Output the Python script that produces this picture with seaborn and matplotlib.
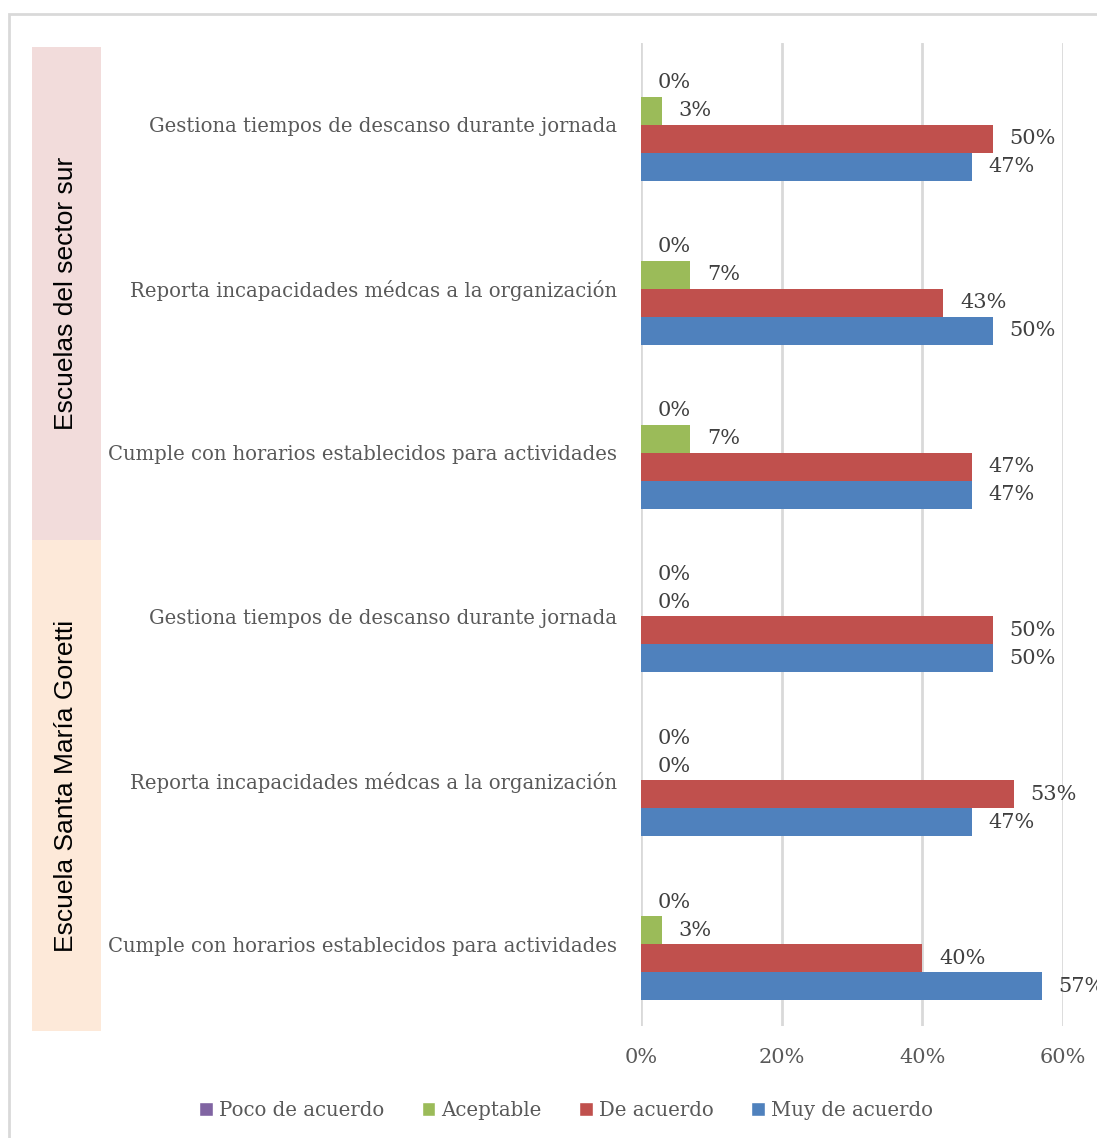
import matplotlib
matplotlib.use("Agg")
import matplotlib.pyplot as plt
from matplotlib.patches import Rectangle
import seaborn as sns
import pandas as pd

# Survey items (top to bottom) and the school each block belongs to
items = [
    "Gestiona tiempos de descanso durante jornada",
    "Reporta incapacidades médcas a la organización",
    "Cumple con horarios establecidos para actividades",
    "Gestiona tiempos de descanso durante jornada",
    "Reporta incapacidades médcas a la organización",
    "Cumple con horarios establecidos para actividades",
]
schools = ["Escuelas del sector sur", "Escuela Santa María Goretti"]

levels = ["Poco de acuerdo", "Aceptable", "De acuerdo", "Muy de acuerdo"]
poco = [0, 0, 0, 0, 0, 0]
aceptable = [3, 7, 7, 0, 0, 3]
de_acuerdo = [50, 43, 47, 50, 53, 40]
muy_de_acuerdo = [47, 50, 47, 50, 47, 57]
ticks = [0, 20, 40, 60]

colors = ["#8064A2", "#9BBB59", "#C0504D", "#4F81BD"]

# Unique keys so repeated item names stay separate rows
keys = [f"{i}" for i in range(len(items))]
rows = []
for series, vals in zip(levels, [poco, aceptable, de_acuerdo, muy_de_acuerdo]):
    for k, v in zip(keys, vals):
        rows.append({"item": k, "nivel": series, "pct": v})
df = pd.DataFrame(rows)

sns.set_theme(style="white")
plt.rcParams["font.family"] = ["DejaVu Serif"]

W, H = 1097, 1138
fig = plt.figure(figsize=(W / 100, H / 100), dpi=100)
ax = fig.add_axes([641 / W, 1 - 1026 / H, 422 / W, (1026 - 43) / H])

sns.barplot(data=df, y="item", x="pct", hue="nivel", order=keys,
            hue_order=levels, palette=colors, width=0.683,
            orient="h", ax=ax, saturation=1, legend=False, linewidth=0)

for cont in ax.containers:
    ax.bar_label(cont, labels=[f"{v:.0f}%" for v in cont.datavalues],
                 padding=12, fontsize=15, color="#404040", clip_on=False)

ax.set_xlim(0, 60)
ax.set_xticks(ticks)
ax.set_xticklabels([f"{t}%" for t in ticks], fontsize=15, color="#595959")
ax.set_yticks(range(len(items)))
ax.set_yticklabels(items, fontsize=14.1, color="#595959")
ax.tick_params(axis="x", length=0, pad=16)
ax.tick_params(axis="y", length=0, pad=17)
ax.set_xlabel("")
ax.set_ylabel("")
ax.grid(axis="x", color="#D9D9D9", linewidth=2)
ax.set_axisbelow(True)
for s in ax.spines.values():
    s.set_visible(False)

# Outer chart border
fig.patches.append(Rectangle((9 / W, -0.05), 1.2, 1 - 14 / H + 0.05,
                             transform=fig.transFigure, fill=False,
                             edgecolor="#D9D9D9", linewidth=2))

# School group bands with rotated names
bands = [(47, 540, "#F2DCDB"), (540, 1031, "#FDE9D9")]
for (y0, y1, col), name in zip(bands, schools):
    fig.patches.append(Rectangle((32 / W, 1 - y1 / H), 69 / W, (y1 - y0) / H,
                                 transform=fig.transFigure, facecolor=col,
                                 edgecolor="none", zorder=0))
    fig.text(66 / W, 1 - (y0 + y1) / 2 / H, name, rotation=90,
             ha="center", va="center", fontsize=19, color="black",
             family=["Liberation Sans"])

handles = [Rectangle((0, 0), 1, 1, facecolor=c) for c in colors]
fig.legend(handles, levels, loc="center", bbox_to_anchor=(566 / W, 1 - 1110 / H),
           ncol=4, frameon=False, fontsize=14.2, handlelength=0.7,
           handleheight=0.7, handletextpad=0.3, columnspacing=1.9,
           labelcolor="#595959")

fig.savefig("out.png", dpi=100)
